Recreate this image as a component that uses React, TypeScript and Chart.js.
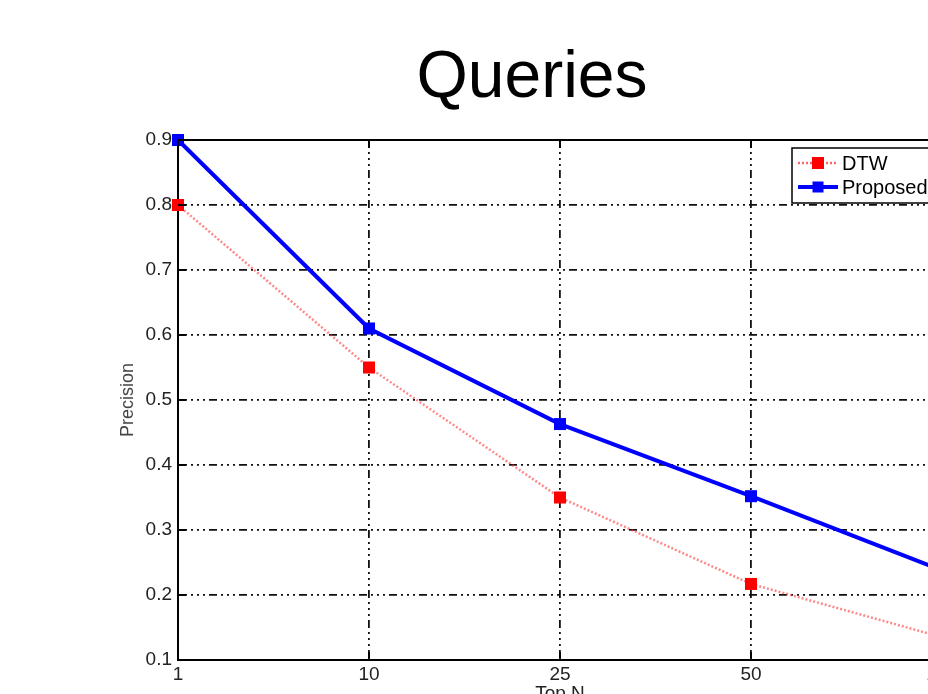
import React, { useEffect, useRef } from "react";
import { Chart, registerables } from "chart.js";

Chart.register(...registerables);

const TITLE = "Queries";
const X_TITLE = "Top N";
const Y_TITLE = "Precision";
const categories = ["1", "10", "25", "50", "100"];
const dtwValues = [0.8, 0.55, 0.35, 0.217, 0.135];
const proposedValues = [0.9, 0.61, 0.463, 0.352, 0.238];
const seriesNames = ["DTW", "Proposed"];

const FONT = '"Liberation Sans", Arial, Helvetica, sans-serif';
const GRID_DASH = [8, 4, 2, 4, 2, 4, 2, 4];

const decorPlugin = {
  id: "decor",
  afterDraw(chart: any) {
    const { ctx, chartArea } = chart;
    const xs = chart.scales.x;
    const ys = chart.scales.y;
    ctx.save();
    // title
    ctx.fillStyle = "#000";
    ctx.font = `66px ${FONT}`;
    ctx.textAlign = "center";
    ctx.textBaseline = "alphabetic";
    ctx.fillText(TITLE, 532, 97);

    // solid frame top / right
    ctx.strokeStyle = "#000";
    ctx.lineWidth = 2;
    ctx.setLineDash([]);
    ctx.beginPath();
    ctx.moveTo(chartArea.left, chartArea.top);
    ctx.lineTo(chartArea.right, chartArea.top);
    ctx.lineTo(chartArea.right, chartArea.bottom);
    ctx.stroke();

    // inward tick marks
    ctx.lineWidth = 1.8;
    for (let i = 0; i < xs.ticks.length; i++) {
      const px = xs.getPixelForTick(i);
      ctx.beginPath();
      ctx.moveTo(px, chartArea.bottom);
      ctx.lineTo(px, chartArea.bottom - 8);
      ctx.moveTo(px, chartArea.top);
      ctx.lineTo(px, chartArea.top + 8);
      ctx.stroke();
    }
    for (let i = 0; i < ys.ticks.length; i++) {
      const py = ys.getPixelForTick(i);
      ctx.beginPath();
      ctx.moveTo(chartArea.left, py);
      ctx.lineTo(chartArea.left + 8, py);
      ctx.stroke();
    }

    // legend
    const lx = 792, ly = 148, lw = 146, lh = 55;
    ctx.fillStyle = "#fff";
    ctx.fillRect(lx, ly, lw, lh);
    ctx.strokeStyle = "#000";
    ctx.lineWidth = 1.5;
    ctx.strokeRect(lx, ly, lw, lh);
    const rows = [
      { name: seriesNames[0], y: 163, color: "rgba(255,0,0,0.6)", mark: "#ff0000", dash: [2, 2], w: 2.5, s: 12 },
      { name: seriesNames[1], y: 187, color: "#0000ff", mark: "#0000ff", dash: [], w: 4, s: 11 },
    ];
    for (const r of rows) {
      ctx.strokeStyle = r.color;
      ctx.lineWidth = r.w;
      ctx.setLineDash(r.dash);
      ctx.beginPath();
      ctx.moveTo(798, r.y);
      ctx.lineTo(838, r.y);
      ctx.stroke();
      ctx.setLineDash([]);
      ctx.fillStyle = r.mark;
      ctx.fillRect(818 - r.s / 2, r.y - r.s / 2, r.s, r.s);
      ctx.fillStyle = "#000";
      ctx.font = `20px ${FONT}`;
      ctx.textAlign = "left";
      ctx.textBaseline = "middle";
      ctx.fillText(r.name, 842, r.y + 1);
    }
    ctx.restore();
  },
};

export default function App() {
  const ref = useRef<HTMLCanvasElement | null>(null);
  useEffect(() => {
    if (!ref.current) return;
    const chart = new Chart(ref.current, {
      type: "line",
      data: {
        labels: categories,
        datasets: [
          {
            label: seriesNames[0],
            data: dtwValues,
            borderColor: "rgba(255,40,40,0.55)",
            backgroundColor: "#ff0000",
            borderWidth: 2.5,
            borderDash: [2, 2],
            pointStyle: "rect",
            pointRadius: 8.5,
            pointBorderWidth: 0,
            pointBackgroundColor: "#ff0000",
            tension: 0,
            clip: false,
          },
          {
            label: seriesNames[1],
            data: proposedValues,
            borderColor: "#0000ff",
            backgroundColor: "#0000ff",
            borderWidth: 4,
            pointStyle: "rect",
            pointRadius: 8.5,
            pointBorderWidth: 0,
            pointBackgroundColor: "#0000ff",
            tension: 0,
            clip: false,
          },
        ],
      },
      options: {
        animation: false,
        responsive: false,
        devicePixelRatio: 1,
        layout: { padding: { top: 140, left: 0, right: 58, bottom: 15 } },
        plugins: {
          legend: { display: false },
          title: { display: false },
          tooltip: { enabled: false },
        },
        scales: {
          x: {
            type: "category",
            offset: false,
            afterFit: (s: any) => {
              s.height = 45;
            },
            grid: {
              color: (c: any) => (c.index === 0 ? "rgba(0,0,0,0)" : "#111"),
              lineWidth: 1.8,
              drawTicks: false,
              offset: false,
            },
            border: { display: true, color: "#000", width: 2, dash: GRID_DASH },
            ticks: {
              color: "#222",
              font: { family: FONT, size: 19 },
              padding: 3,
              maxRotation: 0,
              autoSkip: false,
            },
            title: {
              display: true,
              text: X_TITLE,
              color: "#222",
              font: { family: FONT, size: 19 },
              padding: { top: 0, bottom: 0 },
            },
          },
          y: {
            type: "linear",
            min: 0.1,
            max: 0.9,
            afterFit: (s: any) => {
              s.width = 178;
            },
            grid: {
              color: (c: any) =>
                c.tick && (Math.abs(c.tick.value - 0.1) < 1e-6 || Math.abs(c.tick.value - 0.9) < 1e-6)
                  ? "rgba(0,0,0,0)"
                  : "#111",
              lineWidth: 1.8,
              drawTicks: false,
            },
            border: { display: true, color: "#000", width: 2, dash: GRID_DASH },
            ticks: {
              stepSize: 0.1,
              color: "#222",
              font: { family: FONT, size: 19 },
              padding: 6,
              callback: (v: any) => Number(v).toFixed(1),
            },
            title: {
              display: true,
              text: Y_TITLE,
              color: "#444",
              font: { family: FONT, size: 18 },
              padding: { top: 117, bottom: 0 },
            },
          },
        },
      },
      plugins: [decorPlugin],
    });
    return () => chart.destroy();
  }, []);

  return (
    <div
      style={{
        position: "fixed",
        left: 0,
        top: 0,
        width: 928,
        height: 694,
        overflow: "hidden",
        background: "#fff",
      }}
    >
      <canvas ref={ref} width={1000} height={720} style={{ display: "block" }} />
    </div>
  );
}
